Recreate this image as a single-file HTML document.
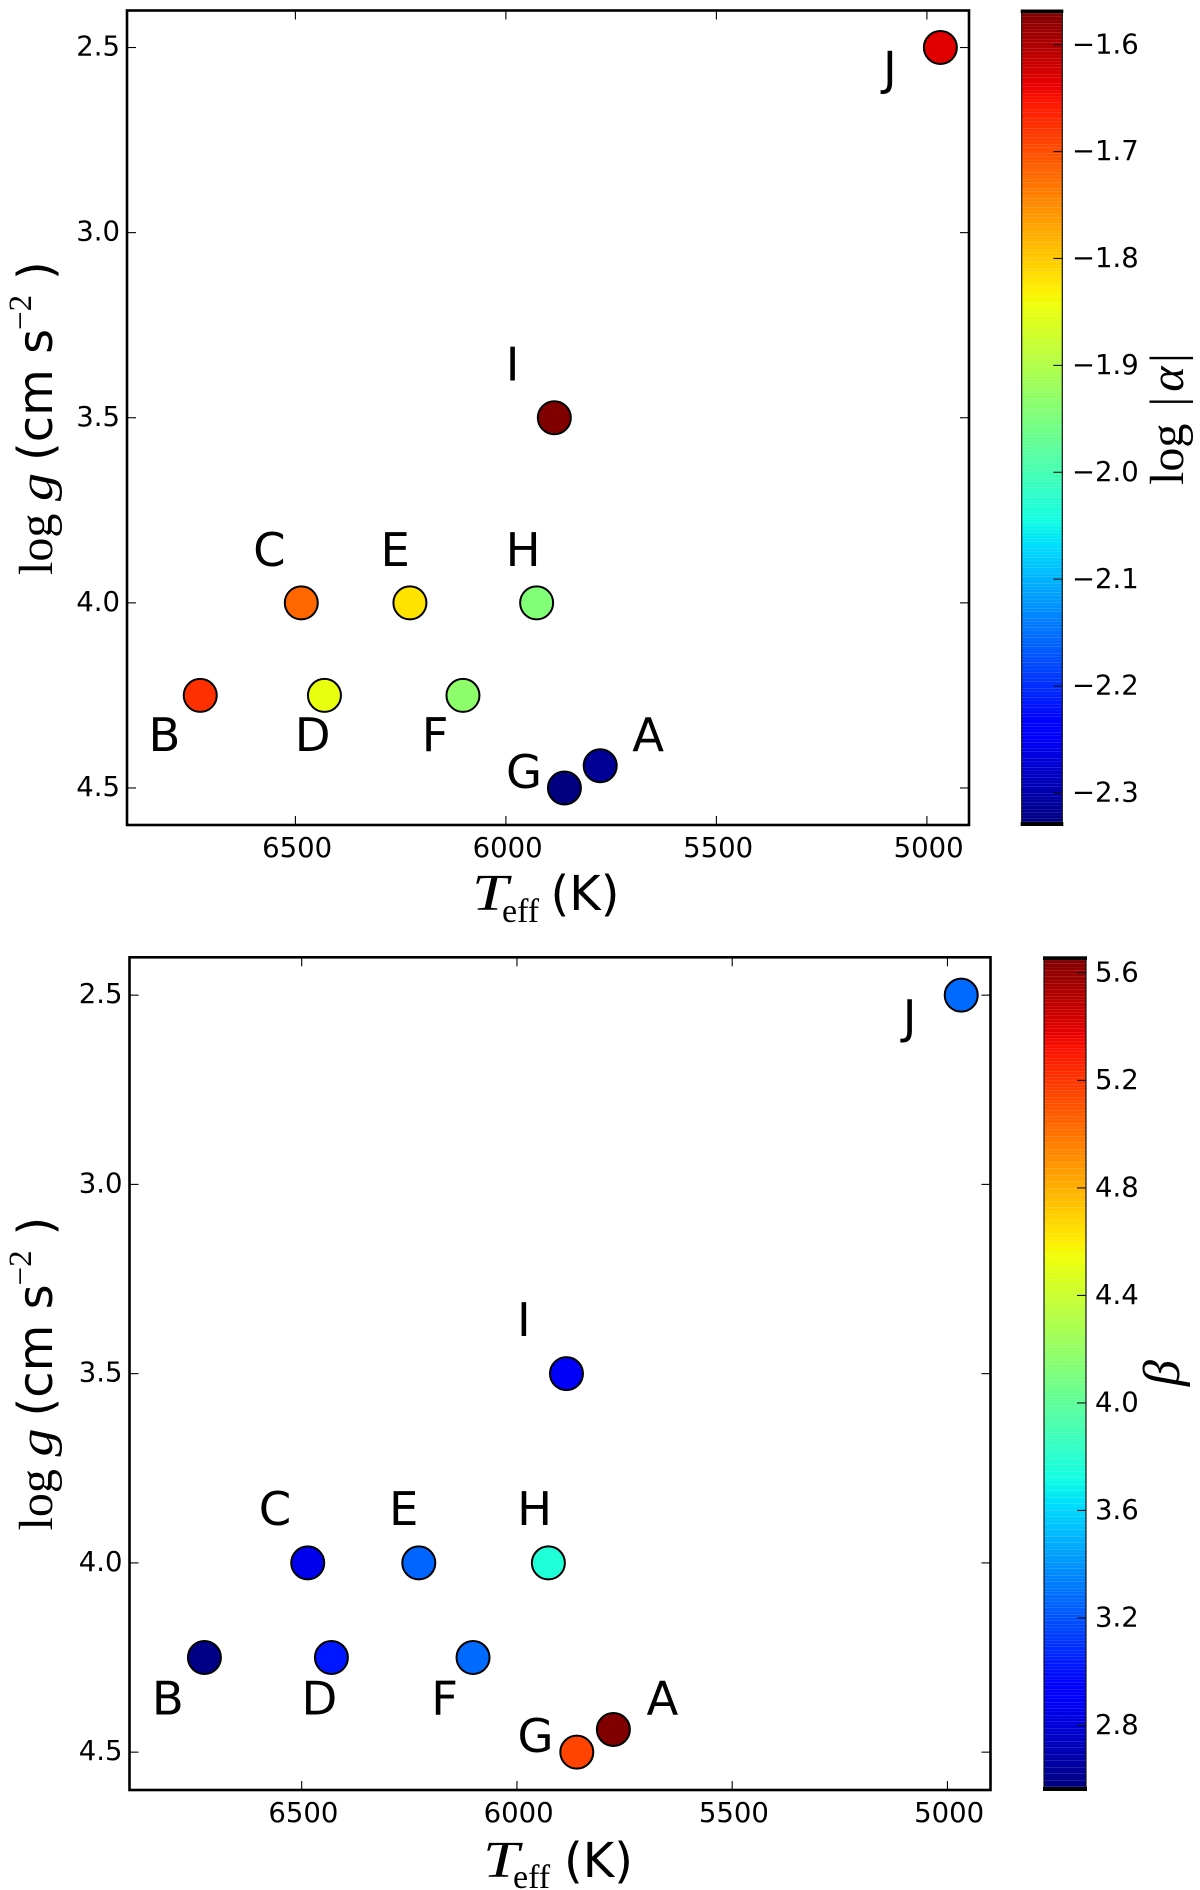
<!DOCTYPE html>
<html lang="en">
<head>
<meta charset="utf-8">
<title>Stellar parameters coloured by log |alpha| and beta</title>
<style>
  html, body { margin: 0; padding: 0; background: #fff; }
  svg { display: block; }
  .tick { font-family: "DejaVu Sans", sans-serif; font-size: 27.5px; fill: #000; }
  .star { font-family: "DejaVu Sans", sans-serif; font-size: 46.5px; fill: #000; text-anchor: middle; }
  .sans48 { font-family: "DejaVu Sans", sans-serif; font-size: 48px; fill: #000; }
  .serif48 { font-family: "Liberation Serif", serif; font-size: 48px; fill: #000; }
  .ital48 { font-family: "Liberation Serif", serif; font-style: italic; font-size: 48px; fill: #000; }
  .ital52 { font-family: "Liberation Serif", serif; font-style: italic; font-size: 52px; fill: #000; }
  .sup { font-family: "Liberation Serif", serif; font-size: 33px; fill: #000; }
  .sub { font-family: "Liberation Serif", serif; font-size: 34px; fill: #000; }
</style>
</head>
<body>
<svg id="fig" width="1200" height="1890" viewBox="0 0 1200 1890" xmlns="http://www.w3.org/2000/svg">
  <rect x="0" y="0" width="1200" height="1890" fill="#fff"/>

  <g id="panel-top"></g>
  <g id="panel-bottom"></g>

  <g transform="translate(52,573) rotate(-90)">
    <text class="serif48" x="-2" y="0">log</text>
    <text class="ital48" x="72" y="0" textLength="28" lengthAdjust="spacingAndGlyphs">g</text>
    <text class="sans48" x="112" y="0">(cm s</text>
    <text class="sup" x="243" y="-21">−2</text>
    <text class="sans48" x="293" y="0">)</text>
  </g>
  <g transform="translate(52,1528.5) rotate(-90)">
    <text class="serif48" x="-2" y="0">log</text>
    <text class="ital48" x="72" y="0" textLength="28" lengthAdjust="spacingAndGlyphs">g</text>
    <text class="sans48" x="112" y="0">(cm s</text>
    <text class="sup" x="243" y="-21">−2</text>
    <text class="sans48" x="293" y="0">)</text>
  </g>

  <g>
    <text class="ital52" x="472" y="910" textLength="36" lengthAdjust="spacingAndGlyphs">T</text>
    <text class="sub" x="502" y="922">eff</text>
    <text class="sans48" x="550.5" y="910">(K)</text>
  </g>
  <g>
    <text class="ital52" x="483" y="1877" textLength="36" lengthAdjust="spacingAndGlyphs">T</text>
    <text class="sub" x="513" y="1888">eff</text>
    <text class="sans48" x="564" y="1877">(K)</text>
  </g>

  <g transform="translate(1183,483) rotate(-90)">
    <text class="serif48" x="-2" y="0">log</text>
    <text class="serif48" x="81.3" y="0" text-anchor="middle">|</text>
    <text class="ital48" x="104" y="0" text-anchor="middle">α</text>
    <text class="serif48" x="125" y="0" text-anchor="middle">|</text>
  </g>
  <g transform="translate(1179,1373) rotate(-90)">
    <text class="ital52" x="0" y="0" text-anchor="middle">β</text>
  </g>
</svg>

<script>
// ---- data ----
var stars = ["A", "B", "C", "D", "E", "F", "G", "H", "I", "J"];
var teff = [5776, 6726, 6486, 6431, 6228, 6102, 5861, 5927, 5885, 4968];
var logg = [4.44, 4.25, 4.00, 4.25, 4.00, 4.25, 4.50, 4.00, 3.50, 2.50];
var labelTeff = [5662, 6811, 6562, 6459, 6263, 6168, 5957, 5959, 5984, 5088];
var labelLogg = [4.40, 4.40, 3.90, 4.40, 3.90, 4.40, 4.50, 3.90, 3.40, 2.60];
var logAlpha = [-2.315, -1.675, -1.719, -1.848, -1.82, -1.934, -2.33, -1.945, -1.568, -1.632];
var beta = [5.658, 2.58, 2.855, 3.02, 3.25, 3.27, 5.16, 3.76, 2.885, 3.27];
var xTicks = [6500, 6000, 5500, 5000];
var yTicks = [2.5, 3.0, 3.5, 4.0, 4.5];
var xLimits = [6900, 4900];
var yLimits = [2.4, 4.6];
var alphaLimits = [-2.33, -1.568];
var betaLimits = [2.56, 5.658];
var alphaTicks = [-1.6, -1.7, -1.8, -1.9, -2.0, -2.1, -2.2, -2.3];
var betaTicks = [5.6, 5.2, 4.8, 4.4, 4.0, 3.6, 3.2, 2.8];

// ---- jet colormap ----
var jetR = [[0, 0], [0.35, 0], [0.66, 1], [0.89, 1], [1, 0.5]];
var jetG = [[0, 0], [0.125, 0], [0.375, 1], [0.64, 1], [0.91, 0], [1, 0]];
var jetB = [[0, 0.5], [0.11, 1], [0.34, 1], [0.65, 0], [1, 0]];

function channel(seg, t) {
  for (var i = 1; i < seg.length; i++) {
    if (t <= seg[i][0]) {
      var f = (t - seg[i - 1][0]) / (seg[i][0] - seg[i - 1][0]);
      return seg[i - 1][1] + f * (seg[i][1] - seg[i - 1][1]);
    }
  }
  return seg[seg.length - 1][1];
}
function jet(t) {
  t = Math.max(0, Math.min(1, t));
  return "rgb(" + Math.round(255 * channel(jetR, t)) + "," +
    Math.round(255 * channel(jetG, t)) + "," +
    Math.round(255 * channel(jetB, t)) + ")";
}

var NS = "http://www.w3.org/2000/svg";
function make(parent, tag, attrs, text) {
  var el = document.createElementNS(NS, tag);
  for (var k in attrs) { el.setAttribute(k, attrs[k]); }
  if (text !== undefined) { el.textContent = text; }
  parent.appendChild(el);
  return el;
}
function fmt(v) {
  return v.toFixed(1).replace("-", "\u2212");
}

function drawPanel(root, cfg) {
  var xScale = function (t) {
    return cfg.left + (t - xLimits[0]) / (xLimits[1] - xLimits[0]) * cfg.width;
  };
  var yScale = function (g) {
    return cfg.top + (g - yLimits[0]) / (yLimits[1] - yLimits[0]) * cfg.height;
  };
  var cNorm = function (v) {
    return (v - cfg.limits[0]) / (cfg.limits[1] - cfg.limits[0]);
  };
  var cScale = function (v) {
    return cfg.top + (1 - cNorm(v)) * cfg.height;
  };
  var bottom = cfg.top + cfg.height;
  var right = cfg.left + cfg.width;
  var el;

  // plot frame
  el = make(root, "rect", { x: cfg.left, y: cfg.top, width: cfg.width, height: cfg.height, fill: "#fff", stroke: "#000", "stroke-width": 2.6 });
  
  

  // x ticks
  xTicks.forEach(function (t) {
    var x = xScale(t);
    var l1 = make(root, "line", { x1: x, x2: x, y1: bottom, y2: bottom - 9, stroke: "#000", "stroke-width": 1.1 });
    
    
    var l2 = make(root, "line", { x1: x, x2: x, y1: cfg.top, y2: cfg.top + 9, stroke: "#000", "stroke-width": 1.1 });
    
    
    var lab = make(root, "text", { "class": "tick", x: x + 1.7, y: bottom + 32, "text-anchor": "middle" }, String(t));
    
    
  });

  // y ticks
  yTicks.forEach(function (g) {
    var y = yScale(g);
    var l1 = make(root, "line", { x1: cfg.left, x2: cfg.left + 9, y1: y, y2: y, stroke: "#000", "stroke-width": 1.1 });
    
    
    var l2 = make(root, "line", { x1: right, x2: right - 9, y1: y, y2: y, stroke: "#000", "stroke-width": 1.1 });
    
    
    var lab = make(root, "text", { "class": "tick", x: cfg.left - 7, y: y + 8, "text-anchor": "end" }, g.toFixed(1));
    
    
  });

  // points and their letters
  stars.forEach(function (name, i) {
    var c = make(root, "circle", { cx: xScale(teff[i]), cy: yScale(logg[i]), r: 16.5, fill: jet(cNorm(cfg.values[i])), stroke: "#000", "stroke-width": 2 });
    
    
    var t = make(root, "text", { "class": "star", x: xScale(labelTeff[i]), y: yScale(labelLogg[i]) }, name);
    
    
  });

  // colorbar bands
  var bar = make(root, "g", {});
  
  
  var N = 256;
  var cellH = cfg.height / N;
  for (var i = 0; i < N; i++) {
    var r = make(bar, "rect", { x: cfg.barLeft, y: bottom - (i + 1) * cellH, width: cfg.barWidth, height: cellH, fill: jet(i / (N - 1)) });
    
    
  }
  var outline = make(root, "rect", { x: cfg.barLeft, y: cfg.top, width: cfg.barWidth, height: cfg.height, fill: "none", stroke: "#111", "stroke-width": 1.2 });
  
  
  var capTop = make(root, "rect", { x: cfg.barLeft - 1, y: cfg.top - 1, width: cfg.barWidth + 2, height: 3.6, fill: "#000" });
  
  
  var capBottom = make(root, "rect", { x: cfg.barLeft - 1, y: bottom - 3, width: cfg.barWidth + 2, height: 4, fill: "#000" });
  
  

  cfg.ticks.forEach(function (v) {
    var y = cScale(v);
    var x2 = cfg.barLeft + cfg.barWidth;
    var l = make(root, "line", { x1: x2, x2: x2 - 9, y1: y, y2: y, stroke: "#111", "stroke-width": 1.1 });
    
    
    var lab = make(root, "text", { "class": "tick", x: cfg.labelX, y: y + 8.6 }, fmt(v));
    
    
  });
}

drawPanel(document.getElementById("panel-top"), {
  left: 127, top: 10.5, width: 842, height: 814.5,
  barLeft: 1021.7, barWidth: 40.6, labelX: 1072,
  values: logAlpha, limits: alphaLimits, ticks: alphaTicks
});
drawPanel(document.getElementById("panel-bottom"), {
  left: 129.5, top: 957.3, width: 861, height: 832.7,
  barLeft: 1044, barWidth: 42, labelX: 1095,
  values: beta, limits: betaLimits, ticks: betaTicks
});
</script>
</body>
</html>
